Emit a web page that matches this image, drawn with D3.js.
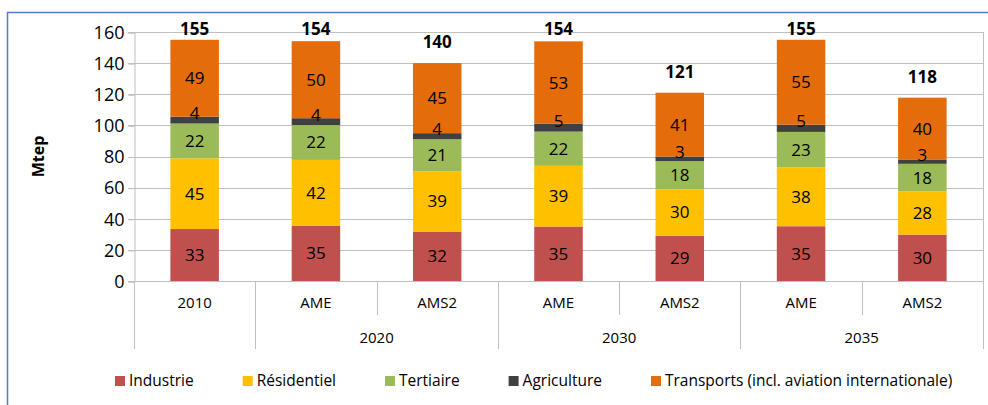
<!DOCTYPE html>
<html>
<head>
<meta charset="utf-8">
<script src="https://cdn.jsdelivr.net/npm/d3@7"></script>
<style>
  body { margin: 0; background: #fff; }
  svg text { font-family: "Open Sans", "Noto Sans", sans-serif; fill: #000; }
</style>
</head>
<body>
<div id="chart"></div>
<script>
// categories (level 1 / level 2)
var scenarios = ['2010', 'AME', 'AMS2', 'AME', 'AMS2', 'AME', 'AMS2'];
var years = ['2010', '2020', '2020', '2030', '2030', '2035', '2035'];

// series values, Mtep (labels show them rounded)
var industrie   = [33.4, 35.4, 31.8, 35, 29, 35.2, 29.8];
var residentiel = [45.4, 42.4, 38.7, 39, 30, 37.8, 27.8];
var tertiaire   = [22.4, 22.4, 20.6, 22, 18, 22.8, 17.7];
var agriculture = [4.4, 4.4, 3.9, 5, 3, 4.6, 2.8];
var transports  = [49.4, 49.5, 45.0, 53, 41, 54.6, 39.7];

var seriesNames = ['Industrie', 'Résidentiel', 'Tertiaire', 'Agriculture',
                   'Transports (incl. aviation internationale)'];
var yTicks = [0, 20, 40, 60, 80, 100, 120, 140, 160];

var colors = ['#C0504D', '#FFC000', '#9BBB59', '#404040', '#E46C0A'];

var W = 988, H = 405,
    pLeft = 134, pRight = 983, pTop = 32, pBottom = 281;

var svg = d3.select('#chart').append('svg')
    .attr('width', W)
    .attr('height', H);

// blue frame (top and left edges visible)
svg.append('path')
    .attr('d', 'M7.5,' + H + 'V12.5H' + W)
    .attr('fill', 'none')
    .attr('stroke', '#4F81BD')
    .attr('stroke-width', 1.5);

var idx = d3.range(scenarios.length);

var x = d3.scaleBand()
    .domain(idx)
    .range([pLeft, pRight]);

var y = d3.scaleLinear()
    .domain([0, 160])
    .range([pBottom, pTop]);

var rows = idx.map(function(i) {
  return {
    i: i,
    Industrie: industrie[i],
    'Résidentiel': residentiel[i],
    Tertiaire: tertiaire[i],
    Agriculture: agriculture[i],
    'Transports (incl. aviation internationale)': transports[i]
  };
});

var stack = d3.stack().keys(seriesNames)(rows);

// grid lines
svg.append('g')
    .selectAll('line')
    .data(yTicks.slice(1))
  .enter().append('line')
    .attr('x1', pLeft - 6)
    .attr('x2', pRight)
    .attr('y1', function(d) { return Math.round(y(d)) + 0.5; })
    .attr('y2', function(d) { return Math.round(y(d)) + 0.5; })
    .attr('stroke', '#BFBFBF');

// y axis
var yAxis = svg.append('g')
    .attr('transform', 'translate(' + (pLeft + 0.5) + ',0.5)')
    .call(d3.axisLeft(y).tickValues(yTicks).tickSize(6).tickPadding(4));
yAxis.select('.domain').attr('stroke', '#BFBFBF');
yAxis.selectAll('.tick line').attr('stroke', '#BFBFBF');
yAxis.selectAll('.tick text')
    .attr('fill', '#000')
    .style('font-size', '18px')
    .style('font-family', '"Open Sans", "Noto Sans", sans-serif');

// right edge of plot
svg.append('line')
    .attr('x1', pRight + 0.5).attr('x2', pRight + 0.5)
    .attr('y1', pTop).attr('y2', pBottom + 68)
    .attr('stroke', '#BFBFBF');

svg.append('text')
    .attr('transform', 'translate(44,' + ((pTop + pBottom) / 2) + ') rotate(-90)')
    .attr('text-anchor', 'middle')
    .style('font-size', '16px')
    .style('font-weight', 'bold')
    .text('Mtep');

// bars
var bw = x.bandwidth() * 0.4;

var layer = svg.append('g')
    .selectAll('g')
    .data(stack)
  .enter().append('g')
    .attr('fill', function(d, k) { return colors[k]; });

layer.selectAll('rect')
    .data(function(d) { return d; })
  .enter().append('rect')
    .attr('x', function(d) { return x(d.data.i) + (x.bandwidth() - bw) / 2; })
    .attr('width', bw)
    .attr('y', function(d) { return y(d[1]); })
    .attr('height', function(d) { return y(d[0]) - y(d[1]); });

// segment labels, drawn over all bars
var labels = svg.append('g')
    .selectAll('g')
    .data(stack)
  .enter().append('g');

labels.selectAll('text')
    .data(function(s) {
      return s.map(function(d) { return { d: d, key: s.key }; });
    })
  .enter().append('text')
    .attr('x', function(o) { return x(o.d.data.i) + x.bandwidth() / 2; })
    .attr('y', function(o) {
      var c = (y(o.d[0]) + y(o.d[1])) / 2;
      return o.key == 'Agriculture' ? c - 7 : c;
    })
    .attr('dy', '0.35em')
    .attr('text-anchor', 'middle')
    .style('font-size', '17px')
    .text(function(o) { return Math.round(o.d[1] - o.d[0]); });

// totals
var totals = idx.map(function(i) {
  return industrie[i] + residentiel[i] + tertiaire[i] + agriculture[i] + transports[i];
});

svg.append('g')
    .selectAll('text')
    .data(totals)
  .enter().append('text')
    .attr('x', function(d, i) { return x(i) + x.bandwidth() / 2; })
    .attr('y', function(d) { return Math.max(y(d) - 21, 29); })
    .attr('dy', '0.35em')
    .attr('text-anchor', 'middle')
    .style('font-size', '17px')
    .style('font-weight', 'bold')
    .text(function(d) { return Math.round(d); });

// x axis baseline
svg.append('line')
    .attr('x1', pLeft - 6).attr('x2', pRight)
    .attr('y1', pBottom + 0.5).attr('y2', pBottom + 0.5)
    .attr('stroke', '#BFBFBF');

// category separators: long between year groups, short inside a group
var seps = d3.range(scenarios.length + 1);
svg.append('g')
    .selectAll('line')
    .data(seps)
  .enter().append('line')
    .attr('x1', function(d) { return Math.round(d < idx.length ? x(d) : pRight) + 0.5; })
    .attr('x2', function(d) { return Math.round(d < idx.length ? x(d) : pRight) + 0.5; })
    .attr('y1', pBottom)
    .attr('y2', function(d) {
      var inside = d > 0 && d < idx.length && years[d] == years[d - 1];
      return inside ? pBottom + 34 : pBottom + 68;
    })
    .attr('stroke', '#BFBFBF');

svg.append('g')
    .selectAll('text')
    .data(scenarios)
  .enter().append('text')
    .attr('x', function(d, i) { return x(i) + x.bandwidth() / 2; })
    .attr('y', pBottom + 22)
    .attr('dy', '0.35em')
    .attr('text-anchor', 'middle')
    .style('font-size', '15px')
    .text(function(d) { return d; });

var groups = d3.groups(idx.slice(1), function(i) { return years[i]; });
svg.append('g')
    .selectAll('text')
    .data(groups)
  .enter().append('text')
    .attr('x', function(g) {
      var a = g[1][0], b = g[1][g[1].length - 1];
      return (x(a) + x(b) + x.bandwidth()) / 2;
    })
    .attr('y', pBottom + 57)
    .attr('dy', '0.35em')
    .attr('text-anchor', 'middle')
    .style('font-size', '15px')
    .text(function(g) { return g[0]; });

// legend
var legend = svg.append('g').attr('transform', 'translate(0,381)');
var lx = 115;
seriesNames.forEach(function(name, k) {
  legend.append('rect')
      .attr('x', lx).attr('y', -5)
      .attr('width', 10).attr('height', 10)
      .attr('fill', colors[k]);
  var t = legend.append('text')
      .attr('x', lx + 14)
      .attr('dy', '0.35em')
      .style('font-size', '15.5px')
      .text(name);
  lx += 14 + t.node().getComputedTextLength() + 49;
});
</script>
</body>
</html>
